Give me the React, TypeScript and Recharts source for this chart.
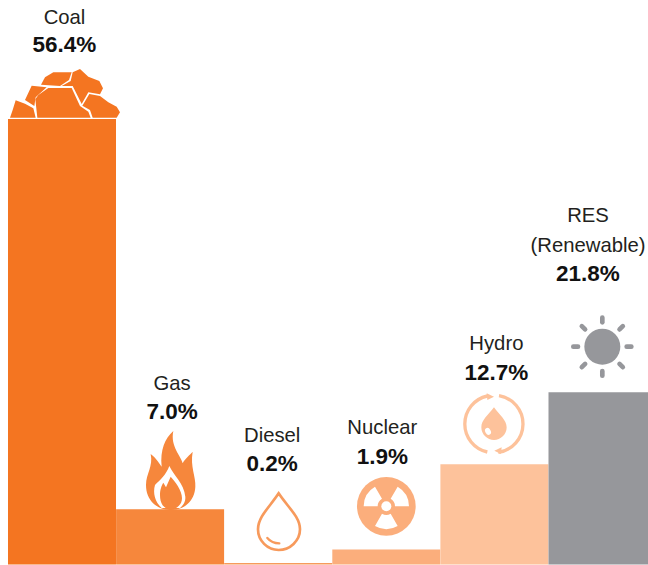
import React from "react";
import { BarChart, Bar, XAxis, YAxis, Cell, LabelList } from "recharts";

const categories = ["Coal", "Gas", "Diesel", "Nuclear", "Hydro", "RES"];
const shares = [56.4, 7.0, 0.2, 1.9, 12.7, 21.8];
const valueLabels = ["56.4%", "7.0%", "0.2%", "1.9%", "12.7%", "21.8%"];
const colors = ["#f47521", "#f6873c", "#f79a5c", "#fbae7c", "#fdc29b", "#96979b"];
const nameLines: string[][] = [["Coal"], ["Gas"], ["Diesel"], ["Nuclear"], ["Hydro"], ["RES", "(Renewable)"]];
const data = categories.map((name, i) => ({ name, share: shares[i] }));

const FONT = "'Liberation Sans', Arial, sans-serif";
const BASE = 564.5;
const PX_PER_UNIT = 7.9;
const BAND = 108.1;

// Text placement relative to each bar's top and centre.
const textDx = [2.5, 2, -6, -4, 2, -14.5];
const valueAbove = [67, 90, 92, 85, 84, 111];
const nameAbove = [95, 119, 121, 115, 114, 140];
const LINE = 30;

function Icon({ index, x, top }: { index: number; x: number; top: number }) {
  const c = colors[index];
  const refLeft = [8, 116, 224, 332, 440, 548][index];
  const refTop = [119, 509, 563, 549, 464, 392][index];
  const origin = index === 0 ? [0, 0] : index <= 3 ? [110, 370] : [430, 200];
  const tf = `translate(${Math.round(x - refLeft) + origin[0]},${Math.round(top - refTop) + origin[1]}) scale(${1 / 3})`;
  if (index === 0) {
    const rocks = [
      "M30 353L38 330L47 301L75 311L100 325L107 353Z",
      "M75 300L95 257L140 262L107 292L103 318Z",
      "M123 254L135 232L160 217L215 217L207 240L180 258Z",
      "M218 217L240 207L265 230L298 243L309 265L300 283L265 277L245 312L218 258L185 258L212 243Z",
      "M145 264L215 264L240 318L265 335L272 353L112 353L106 298L115 285Z",
      "M268 282L300 288L325 307L350 320L360 337L350 353L278 353L270 330L247 317Z",
    ];
    return (
      <g transform={tf}>
        {rocks.map((d, i) => (
          <path key={i} d={d} fill={c} />
        ))}
      </g>
    );
  }
  if (index === 1) {
    return (
      <g transform={tf}>
        <path
          fill={c}
          d="M183 420C140 420 108 390 108 345C108 310 130 290 122 252C140 265 150 285 155 290C150 240 165 205 190 183C180 230 215 260 218 280C225 265 240 255 248 245C240 290 258 320 256 350C254 395 220 420 183 420Z"
        />
        <path
          fill="#fff"
          d="M155 414C135 395 128 370 135 345C150 330 168 315 178 288C190 315 222 340 226 380C227 395 220 405 210 414Z"
        />
        <path
          fill={c}
          d="M183 420C160 416 150 400 150 375C150 360 155 345 160 338L168 352L182 320C195 335 216 360 216 385C216 405 200 416 183 420Z"
        />
      </g>
    );
  }
  if (index === 2) {
    return (
      <g transform={tf}>
        <path
          fill="none"
          stroke={c}
          strokeWidth={8}
          d="M506 370C480 410 444 440 444 478C444 512 472 540 506 540C540 540 570 512 570 478C570 440 532 410 506 370Z"
        />
        <path fill="none" stroke={c} strokeWidth={7} strokeLinecap="round" d="M472 504C482 516 494 520 508 520" />
      </g>
    );
  }
  if (index === 3) {
    const cx = 829;
    const cy = 409;
    const blade = (a: number) => {
      const r = (d: number) => (d * Math.PI) / 180;
      const p = (rad: number, d: number) => `${cx + rad * Math.cos(r(d))} ${cy + rad * Math.sin(r(d))}`;
      return `M${p(26, a - 30)}L${p(68, a - 30)}A68 68 0 0 1 ${p(68, a + 30)}L${p(26, a + 30)}A26 26 0 0 0 ${p(26, a - 30)}Z`;
    };
    return (
      <g transform={tf}>
        <circle cx={cx} cy={cy} r={88} fill={c} />
        {[210, 330, 90].map((a) => (
          <path key={a} fill="#fff" d={blade(a)} />
        ))}
        <circle cx={cx} cy={cy} r={15} fill="#fff" />
      </g>
    );
  }
  if (index === 4) {
    return (
      <g transform={tf}>
        <path fill="none" stroke={c} strokeWidth={10} d="M172 588A86 86 0 0 0 172 756" />
        <path fill="none" stroke={c} strokeWidth={10} d="M207 587A86 86 0 0 1 205 757" />
        <path fill={c} d="M170 580L192 590L172 600Z" />
        <path fill={c} d="M215 742L193 752L213 762Z" />
        <path
          fill={c}
          d="M192 622C175 645 154 660 154 682C154 704 172 720 192 720C212 720 230 704 230 682C230 660 208 645 192 622Z"
        />
        <ellipse cx={174} cy={694} rx={8} ry={11} fill="#fff" transform="rotate(-30 174 694)" />
      </g>
    );
  }
  const cx = 517;
  const cy = 440;
  return (
    <g transform={tf}>
      <circle cx={cx} cy={cy} r={54} fill={c} />
      {[0, 45, 90, 135, 180, 225, 270, 315].map((a) => (
        <line
          key={a}
          x1={cx}
          y1={cy - 73}
          x2={cx}
          y2={cy - 87}
          stroke={c}
          strokeWidth={14}
          strokeLinecap="round"
          transform={`rotate(${a} ${cx} ${cy})`}
        />
      ))}
    </g>
  );
}

function BarLabel(props: any) {
  const { x, y, width, index } = props;
  const cx = x + width / 2 + textDx[index];
  const names = nameLines[index];
  return (
    <g fontFamily={FONT}>
      <Icon index={index} x={x} top={y} />
      {names.map((n, i) => (
        <text
          key={n}
          x={cx}
          y={y - nameAbove[index] - LINE * (names.length - 1 - i)}
          textAnchor="middle"
          fontSize={20.3}
          fill="#231f20"
        >
          {n}
        </text>
      ))}
      <text x={cx} y={y - valueAbove[index]} textAnchor="middle" fontSize={22.5} fontWeight={700} fill="#111">
        {valueLabels[index]}
      </text>
    </g>
  );
}

export default function App() {
  return (
    <div style={{ position: "absolute", left: 0, top: 0, width: 648, height: 565, overflow: "hidden", background: "#fff" }}>
      <BarChart
        width={8 + BAND * 6}
        height={565}
        data={data}
        margin={{ top: 0, right: 0, bottom: 565 - BASE, left: 8 }}
        barCategoryGap={0}
      >
        <XAxis dataKey="name" hide />
        <YAxis hide domain={[0, BASE / PX_PER_UNIT]} />
        <Bar dataKey="share" isAnimationActive={false}>
          {data.map((d, i) => (
            <Cell key={d.name} fill={colors[i]} />
          ))}
          <LabelList dataKey="share" content={BarLabel} />
        </Bar>
      </BarChart>
    </div>
  );
}
